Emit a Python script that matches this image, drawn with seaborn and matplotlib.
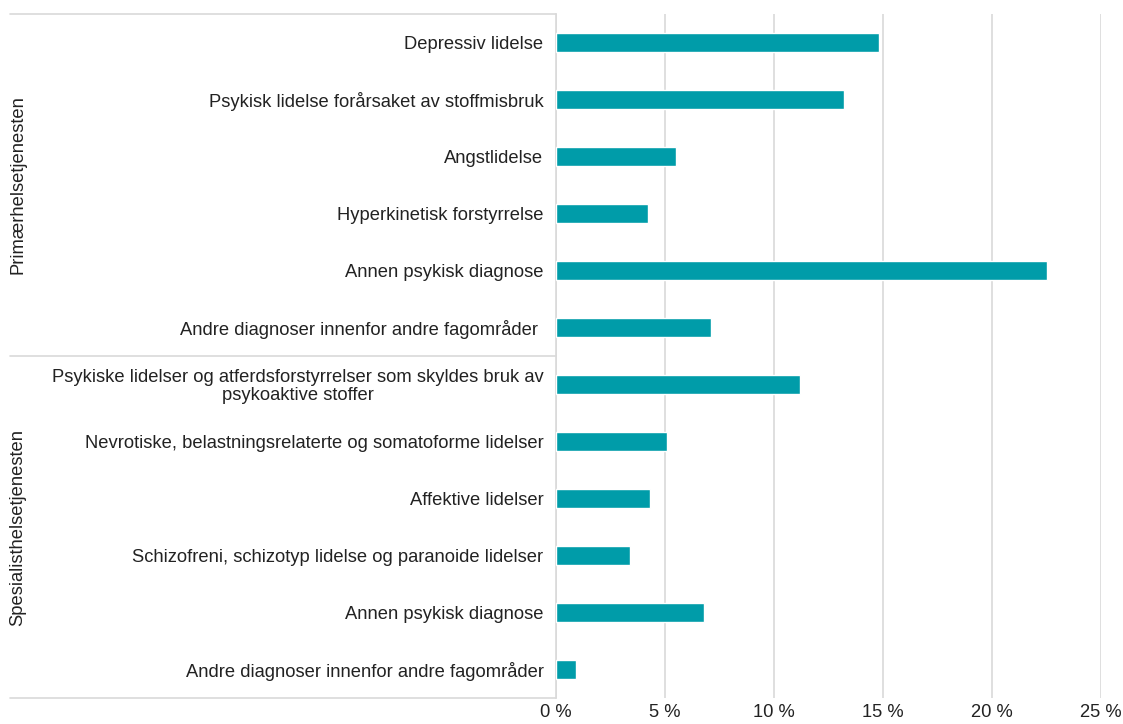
import matplotlib
matplotlib.use("Agg")
import matplotlib.pyplot as plt
from matplotlib.lines import Line2D
import pandas as pd
import seaborn as sns

# data
groups = ["Primærhelsetjenesten"] * 6 + ["Spesialisthelsetjenesten"] * 6
labels = [
    "Depressiv lidelse",
    "Psykisk lidelse forårsaket av stoffmisbruk",
    "Angstlidelse",
    "Hyperkinetisk forstyrrelse",
    "Annen psykisk diagnose",
    "Andre diagnoser innenfor andre fagområder ",
    "Psykiske lidelser og atferdsforstyrrelser som skyldes bruk av\npsykoaktive stoffer",
    "Nevrotiske, belastningsrelaterte og somatoforme lidelser",
    "Affektive lidelser",
    "Schizofreni, schizotyp lidelse og paranoide lidelser",
    "Annen psykisk diagnose",
    "Andre diagnoser innenfor andre fagområder",
]
values = [14.8, 13.2, 5.5, 4.2, 22.5, 7.1, 11.2, 5.1, 4.3, 3.4, 6.8, 0.9]
xticks = [0, 5, 10, 15, 20, 25]

df = pd.DataFrame({"key": [f"r{i}" for i in range(len(labels))],
                   "label": labels, "group": groups, "value": values})

sns.set_style("white")
plt.rcParams["font.family"] = ["Liberation Sans", "DejaVu Sans"]
fs = 13.2

fig = plt.figure(figsize=(11.23, 7.24), dpi=100)
ax = fig.add_axes([556 / 1123, 1 - 698 / 724, 545 / 1123, 684 / 724])

sns.barplot(data=df, x="value", y="key", order=df["key"], color="#009ca9",
            width=0.35, saturation=1, ax=ax, zorder=3)

ax.set_xlim(0, 25)
ax.set_xticks(xticks)
ax.set_xticklabels([f"{t} %" for t in xticks], fontsize=fs, color="#222222")
ax.set_yticks(range(len(labels)))
ax.set_yticklabels(df["label"], fontsize=fs, color="#222222", ha="right",
                   multialignment="center", linespacing=1.0)
ax.tick_params(axis="both", length=0)
ax.tick_params(axis="y", pad=9)
ax.tick_params(axis="x", pad=4)
ax.set_xlabel("")
ax.set_ylabel("")
ax.xaxis.grid(True, color="#d9d9d9", linewidth=1.2)
ax.set_axisbelow(True)
for s in ["top", "right", "bottom"]:
    ax.spines[s].set_visible(False)
ax.spines["left"].set_color("#d9d9d9")
ax.spines["left"].set_linewidth(1.2)

# group separators and labels on the left
x0 = 10 / 1123
x1 = 556 / 1123
for ypix in [14, 356, 698]:
    yf = 1 - ypix / 724
    fig.add_artist(Line2D([x0, x1], [yf, yf], color="#d9d9d9", linewidth=1.2))

centers = [(14 + 356) / 2, (356 + 698) / 2]
for name, cy in zip(["Primærhelsetjenesten", "Spesialisthelsetjenesten"], centers):
    fig.text(18 / 1123, 1 - cy / 724, name, rotation=90, ha="center",
             va="center", fontsize=fs, color="#222222")

fig.savefig("out.png", dpi=100)
